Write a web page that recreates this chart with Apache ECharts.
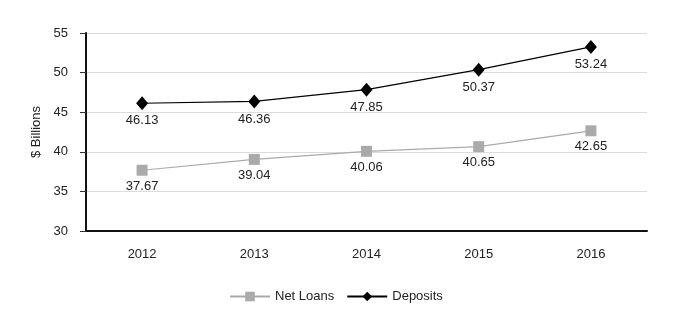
<!DOCTYPE html>
<html>
<head>
<meta charset="utf-8">
<script src="https://cdn.jsdelivr.net/npm/echarts@6/dist/echarts.min.js"></script>
<style>
  html, body { margin: 0; padding: 0; background: #fff; }
  #chart { width: 680px; height: 333px; }
</style>
</head>
<body>
<div id="chart"></div>
<script>
// Year categories and balances in $ billions
const years = ['2012', '2013', '2014', '2015', '2016'];
const netLoans = [37.67, 39.04, 40.06, 40.65, 42.65];
const deposits = [46.13, 46.36, 47.85, 50.37, 53.24];

const font = 'Arial, "Liberation Sans", Helvetica, sans-serif';

const chart = echarts.init(document.getElementById('chart'), null, { renderer: 'canvas' });

const labelStyle = {
  show: true,
  position: 'bottom',
  distance: 4,
  color: '#222',
  fontSize: 13,
  fontFamily: font,
  formatter: p => p.value.toFixed(2)
};

chart.setOption({
  animation: false,
  backgroundColor: '#fff',
  grid: { left: 86, right: 33, top: 33, bottom: 102 },
  legend: {
    bottom: 25,
    left: 224,
    itemWidth: 40,
    itemHeight: 12,
    itemGap: 12,
    textStyle: { fontFamily: font, fontSize: 13, color: '#222' },
    data: ['Net Loans', 'Deposits']
  },
  xAxis: {
    type: 'category',
    data: years,
    boundaryGap: true,
    axisLine: { lineStyle: { color: '#111', width: 2 } },
    axisTick: { alignWithLabel: true, length: 5, lineStyle: { color: '#333' } },
    axisLabel: { color: '#222', fontSize: 13, fontFamily: font, margin: 17 },
    splitLine: { show: false }
  },
  yAxis: {
    type: 'value',
    min: 30,
    max: 55,
    interval: 5,
    name: '$ Billions',
    nameLocation: 'middle',
    nameGap: 41,
    nameTextStyle: { color: '#222', fontSize: 13, fontFamily: font },
    axisLine: { show: true, lineStyle: { color: '#111', width: 2 } },
    axisTick: { show: true, length: 6, lineStyle: { color: '#333' } },
    axisLabel: { color: '#222', fontSize: 13, fontFamily: font, margin: 18 },
    splitLine: { lineStyle: { color: '#dcdcdc', width: 1 } }
  },
  series: [
    {
      name: 'Net Loans',
      type: 'line',
      data: netLoans,
      symbol: 'rect',
      symbolSize: 11,
      itemStyle: { color: '#aaaaaa' },
      lineStyle: { color: '#aaaaaa', width: 1.2 },
      label: labelStyle
    },
    {
      name: 'Deposits',
      type: 'line',
      data: deposits,
      symbol: 'diamond',
      symbolSize: [12, 14],
      itemStyle: { color: '#000' },
      lineStyle: { color: '#000', width: 1.2 },
      label: labelStyle
    }
  ]
});
</script>
</body>
</html>
